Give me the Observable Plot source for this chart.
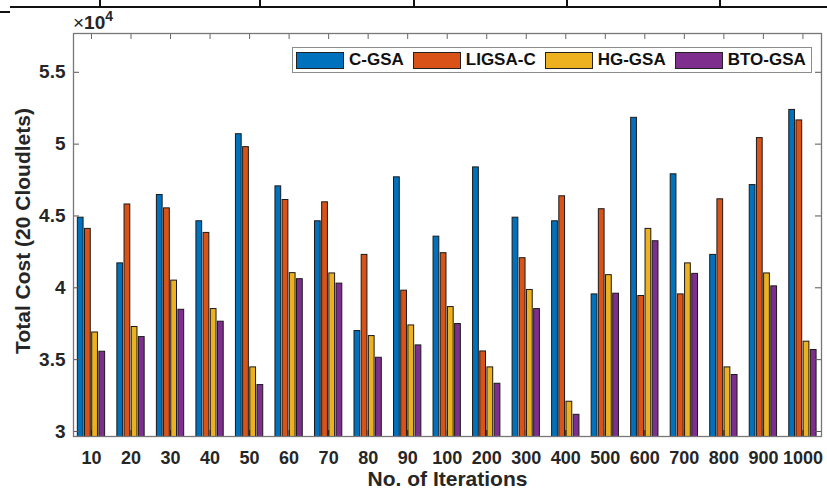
<!DOCTYPE html>
<html><head><meta charset="utf-8">
<script src="https://cdn.jsdelivr.net/npm/d3@7"></script>
<script src="https://cdn.jsdelivr.net/npm/@observablehq/plot@0.6"></script>
<style>
body{margin:0;background:#fff;}
#wrap{position:relative;width:827px;height:491px;font-family:'Liberation Sans',Arial,Helvetica,sans-serif;color:#262626;overflow:hidden;}
.abs{position:absolute;}
#legend{position:absolute;left:292px;top:47px;width:520px;height:26px;box-sizing:border-box;border:1px solid #8c8c8c;background:#fff;display:flex;align-items:center;padding-left:3px;font-size:17px;font-weight:bold;color:#111;white-space:nowrap;}
#legend .sw{width:48px;height:17px;box-sizing:border-box;border:1px solid #222;margin-right:5px;flex:0 0 auto;}
#legend .it{display:flex;align-items:center;margin-right:9px;flex:0 0 auto;}
#mult{position:absolute;left:73px;top:13px;font-size:19px;line-height:19px;color:#262626;white-space:nowrap;}
</style></head><body><div id="wrap"></div>
<script>
const iterations = ["10","20","30","40","50","60","70","80","90","100","200","300","400","500","600","700","800","900","1000"];
const seriesNames = ["C-GSA","LIGSA-C","HG-GSA","BTO-GSA"];
const cgsa   = [44880,41700,46460,44630,50690,47060,44630,36990,47690,43560,48380,44880,44630,39540,51830,47900,42290,47150,52380];
const ligsaC = [44100,45800,45530,43820,49790,46110,45950,42290,39800,42410,35570,42060,46370,45470,39430,39540,46160,50420,51650];
const hggsa  = [36890,37270,40500,38520,34460,41020,41000,36640,37380,38660,34460,39850,32070,40880,44100,41700,34460,41000,36250];
const btogsa = [35550,36570,38470,37640,33230,40600,40290,35130,35990,37480,33320,38520,31160,39590,43240,40970,33930,40100,35670];
const colors = ["#0072BD","#D95319","#EDB120","#7E2F8E"];
const yTicks = [30000,35000,40000,45000,50000,55000];
const yLimits = [29650, 57700];
const xLimits = [0.545, 19.47];

const values = [cgsa, ligsaC, hggsa, btogsa];
const nS = seriesNames.length;
const groupWidth = Math.min(0.8, nS/(nS+1.5));
const pitch = groupWidth/nS;
const barW = pitch*0.8;
const rows = seriesNames.flatMap((s,j)=>values[j].map((v,i)=>{
  const c = i+1+(j-(nS-1)/2)*pitch;
  return {series:s, iter:iterations[i], v, x1:c-barW/2, x2:c+barW/2};
}));
const idx = iterations.map((_,i)=>i+1);

const W=827,H=491,mL=73,mR=6,mT=33,mB=55;
const pw=W-mL-mR, ph=H-mT-mB;

const chart = Plot.plot({
  width:W, height:H, marginLeft:mL, marginRight:mR, marginTop:mT, marginBottom:mB,
  style:{fontFamily:"'Liberation Sans',Arial,Helvetica,sans-serif", fontSize:"18px", fontWeight:"bold", color:"#262626", background:"white", overflow:"visible"},
  x:{domain:xLimits, axis:null},
  y:{domain:yLimits, axis:null},
  color:{domain:seriesNames, range:colors},
  marks:[
    Plot.rectY(rows,{x1:"x1", x2:"x2", y1:0, y2:"v", fill:"series", stroke:"#1a1a1a", strokeWidth:1, clip:true}),
    Plot.tickY(yTicks,{y:d=>d, insetRight:pw-6, stroke:"#555"}),
    Plot.tickY(yTicks,{y:d=>d, insetLeft:pw-6, stroke:"#555"}),
    Plot.tickX(idx,{x:d=>d, insetTop:ph-6, stroke:"#222"}),
    Plot.tickX(idx,{x:d=>d, insetBottom:ph-6, stroke:"#666"}),
    Plot.frame({stroke:"#777", strokeWidth:1.3}),
    Plot.axisY(yTicks,{anchor:"left", tickSize:0, tickPadding:8, fontSize:19, tickFormat:d=>String(d/1e4), label:null}),
    Plot.axisX(idx,{anchor:"bottom", tickSize:0, tickPadding:15, fontSize:18, tickFormat:i=>iterations[i-1], label:null}),
    Plot.text(["Total Cost (20 Cloudlets)"],{text:d=>d, frameAnchor:"left", textAnchor:"middle", rotate:-90, dx:-50, dy:-4, fontSize:21, fill:"#262626"}),
    Plot.text(["No. of Iterations"],{text:d=>d, frameAnchor:"bottom", textAnchor:"middle", dy:49, fontSize:21, fill:"#262626"})
  ]
});

const wrap = document.getElementById("wrap");
wrap.appendChild(chart);

// multiplier label
const mult = document.createElement("div");
mult.id = "mult";
mult.innerHTML = '<span style="font-weight:normal">×</span><b>10</b><b style="font-size:14px;position:relative;top:-8px">4</b>';
wrap.appendChild(mult);

// legend
const legend = document.createElement("div");
legend.id = "legend";
seriesNames.forEach((s,j)=>{
  const it = document.createElement("div"); it.className="it";
  const sw = document.createElement("div"); sw.className="sw"; sw.style.background=colors[j];
  const tx = document.createElement("span"); tx.textContent=s;
  it.appendChild(sw); it.appendChild(tx); legend.appendChild(it);
});
wrap.appendChild(legend);

// cropped border lines at the very top of the source image
function line(l,t,w,h){const d=document.createElement("div");d.className="abs";Object.assign(d.style,{left:l+"px",top:t+"px",width:w+"px",height:h+"px",background:"#111"});wrap.appendChild(d);}
line(10,6,817,2);
line(0,11,10,2);
[99,259,413,566,719].forEach(x=>line(x,0,2,7));
</script></body></html>
